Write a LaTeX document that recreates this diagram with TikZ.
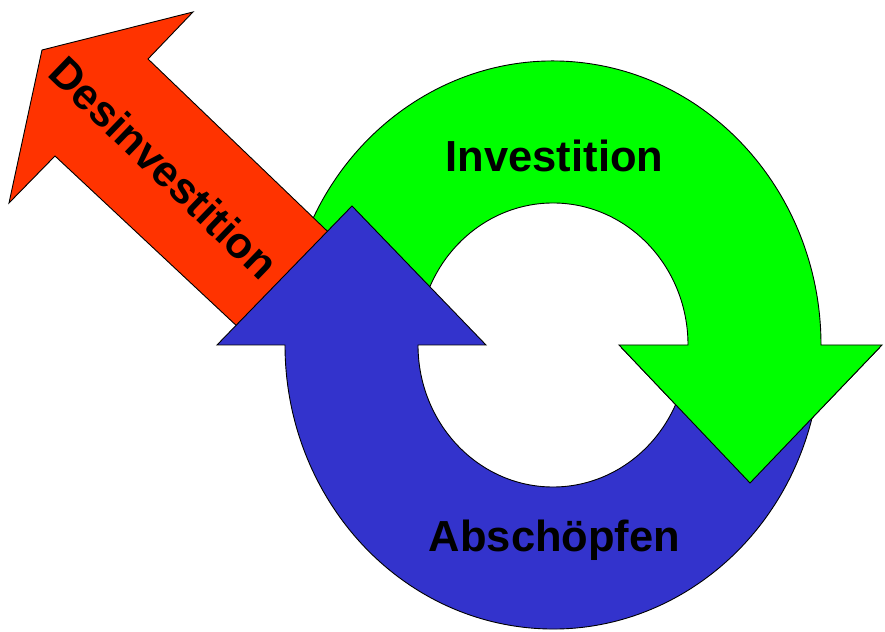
\documentclass[tikz,border=0pt]{standalone}
\usepackage{fontspec}
\setmainfont{Liberation Sans}
\definecolor{grn}{RGB}{0,255,0}
\definecolor{blu}{RGB}{51,51,204}
\definecolor{redd}{RGB}{255,51,0}
\begin{document}
\begin{tikzpicture}[x=1pt,y=1pt,
  shp/.style={draw=black, line width=0.9pt, line join=miter},
  lbl/.style={font=\fontsize{43.5}{50}\selectfont\bfseries, inner sep=0pt, text=black}]
\useasboundingbox (0,0) rectangle (885,631);
\coordinate (C) at (553,286);
\newcommand{\greenarrow}{%
  (C) ++(170:268 and 284) arc[start angle=170, end angle=0, x radius=268, y radius=284]
  -- (882,286) -- (750,148) -- (619,286) -- (688,286)
  arc[start angle=0, end angle=170, x radius=135, y radius=142] -- cycle}
% green arrow
\path[shp, fill=grn] \greenarrow;
% red arrow
\path[shp, fill=redd] (42,581) -- (193,619) -- (148,572) -- (348,380) -- (255,288) -- (55,475) -- (9,428) -- cycle;
% blue arrow
\path[shp, fill=blu] (C) ++(-8:268 and 284) arc[start angle=-8, end angle=-180, x radius=268, y radius=284]
  -- (217,286) -- (352,425) -- (486,286) -- (418,286)
  arc[start angle=180, end angle=352, x radius=135, y radius=142] -- cycle;
% green head on top of blue tail
\begin{scope}
  \clip (560,0) rectangle (885,282);
  \path[shp, fill=grn] \greenarrow;
\end{scope}
\node[lbl, anchor=base] (inv) at (554.5,459) {Investition};
\node[lbl, anchor=base] (abs) at (554.5,79) {Abschöpfen};
\node[lbl, rotate=-44] (des) at (164,463) {Desinvestition};
\end{tikzpicture}
\end{document}
